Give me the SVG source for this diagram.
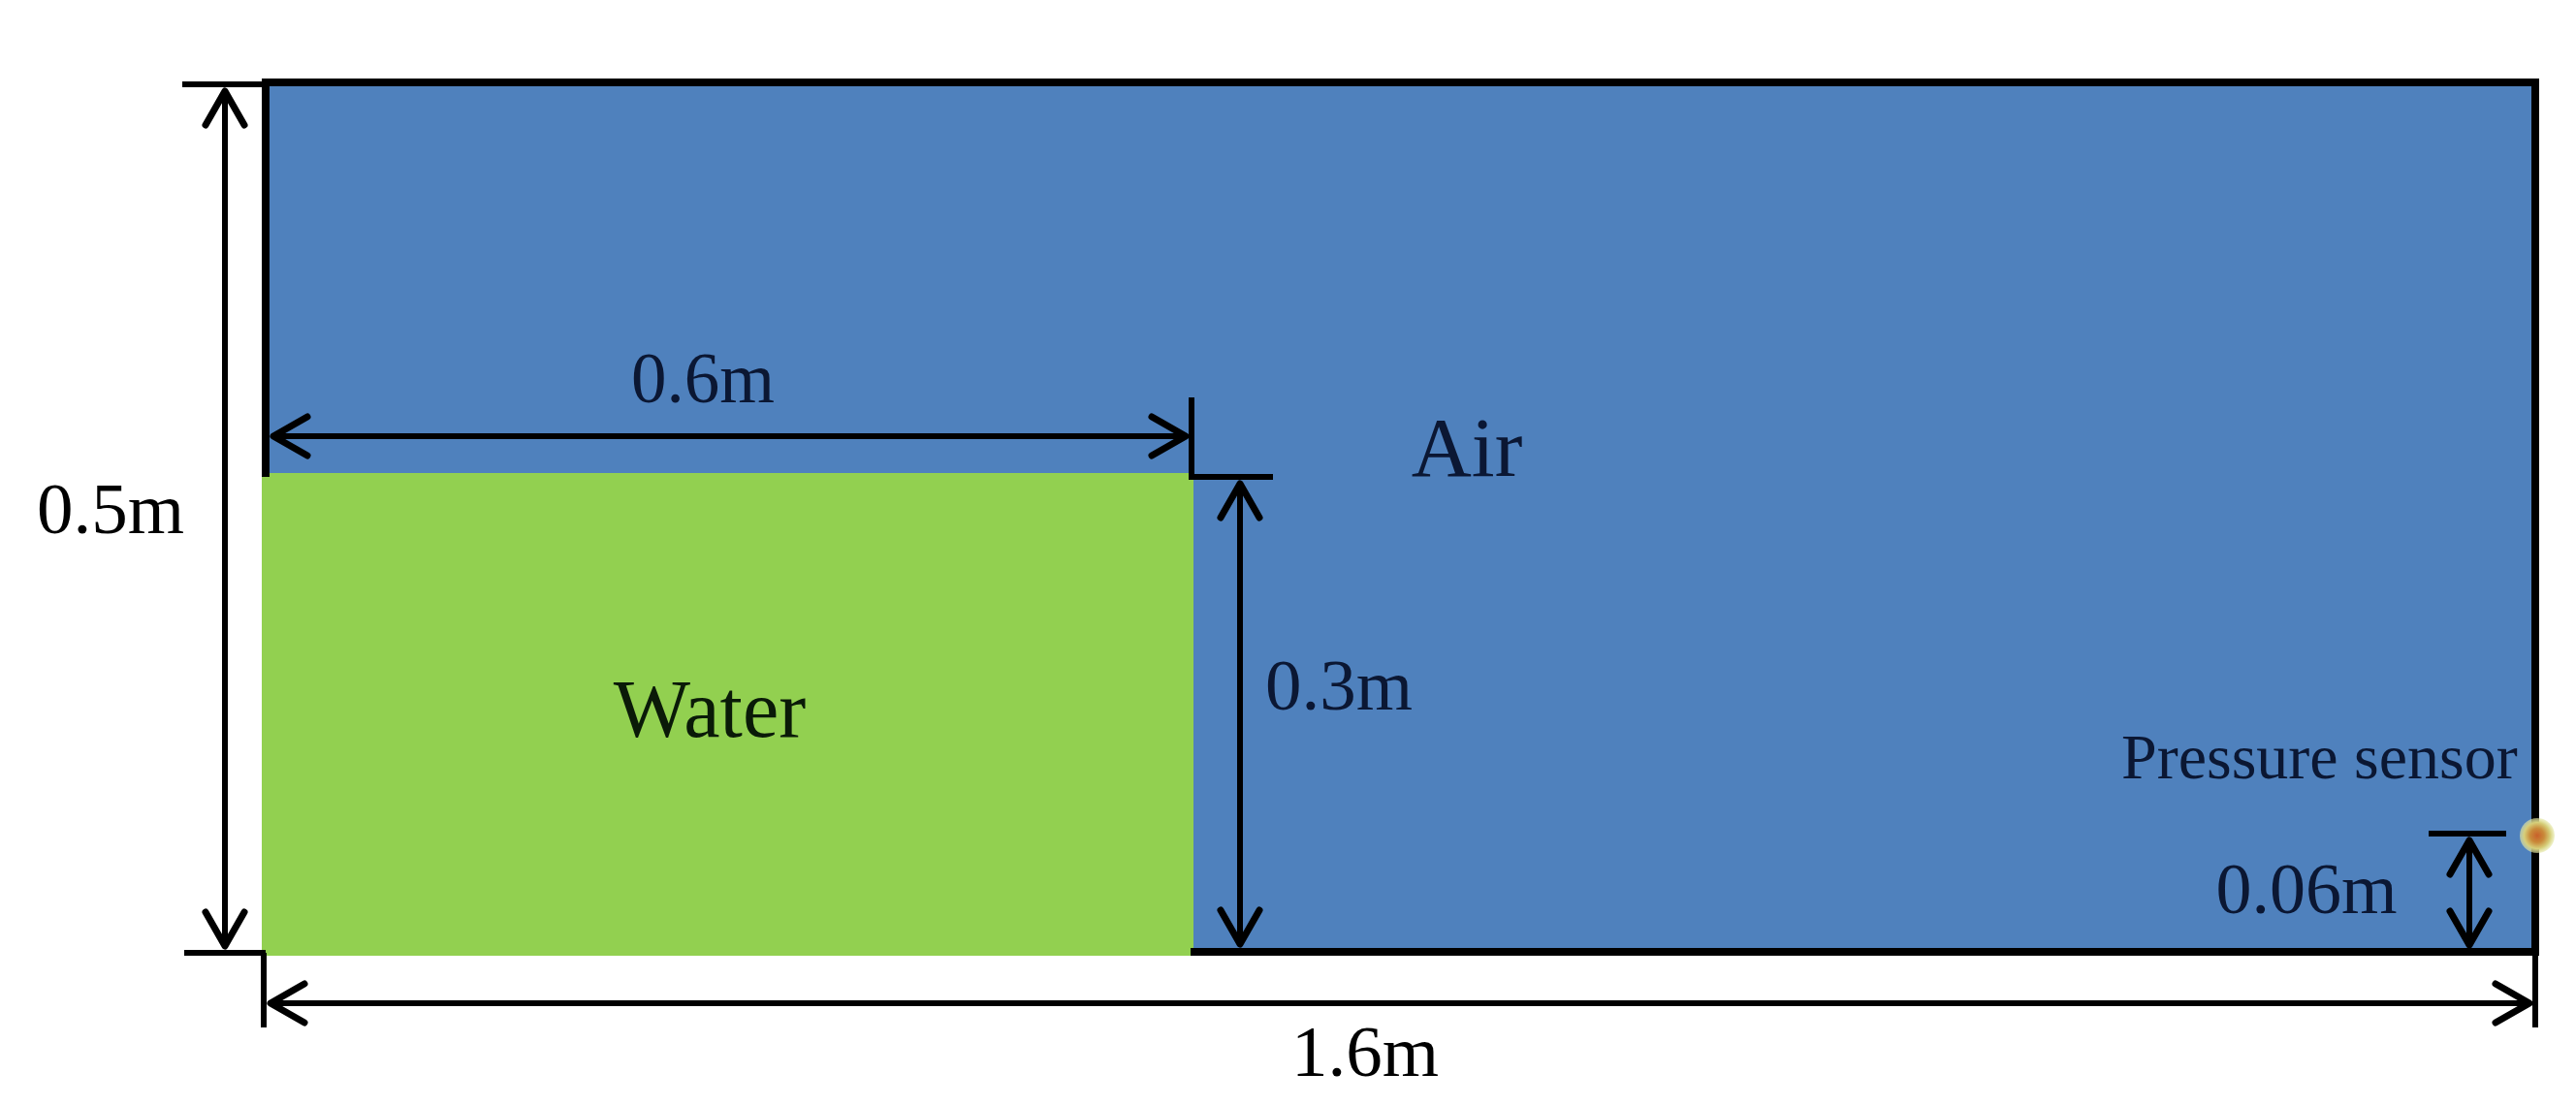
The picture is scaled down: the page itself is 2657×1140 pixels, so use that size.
<svg xmlns="http://www.w3.org/2000/svg" width="2657" height="1140" viewBox="0 0 2657 1140">
  <style>
    .lbl { font-family: "Liberation Serif", "Times New Roman", serif; }
    .dim { stroke: #000; stroke-width: 6; fill: none; stroke-linecap: butt; }
    .dimA { stroke: #000; stroke-width: 6; fill: none; marker-start: url(#arr); marker-end: url(#arr); }
    .border { stroke: #000; stroke-width: 8; fill: none; stroke-linejoin: miter; stroke-linecap: square; }
    .inblue { fill: #0b1733; }
    .outside { fill: #000; }
  </style>
  <defs>
    <marker id="arr" markerUnits="userSpaceOnUse" markerWidth="60" markerHeight="60" viewBox="-50 -30 60 60" refX="0" refY="0" orient="auto-start-reverse">
      <path d="M-37,-20 L-2,0 L-37,20" fill="none" stroke="#000" stroke-width="7" stroke-linecap="round" stroke-linejoin="round"/>
    </marker>
    <radialGradient id="sensorGlow" cx="0.5" cy="0.5" r="0.5">
      <stop offset="0" stop-color="#c8602a"/>
      <stop offset="0.4" stop-color="#c98a3a"/>
      <stop offset="0.75" stop-color="#d6cf7a"/>
      <stop offset="1" stop-color="#e4e8a8" stop-opacity="0.6"/>
    </radialGradient>
  </defs>

  <rect width="2657" height="1140" fill="#ffffff"/>

  <g id="air">
    <rect x="272" y="84" width="2343" height="899" fill="#4f81bd"/>
  </g>
  <g id="water">
    <rect x="270" y="488" width="961" height="498" fill="#92d050"/>
  </g>
  <g id="tank-border">
    <path class="border" d="M274,488 V85 H2615 V982 H1232"/>
  </g>

  <g id="connectors">
    <!-- 0.5m dimension -->
    <line class="dim" x1="188" y1="87" x2="274" y2="87"/>
    <line class="dim" x1="190" y1="983" x2="274" y2="983"/>
    <line class="dimA" x1="232" y1="92" x2="232" y2="978"/>
    <!-- 0.6m dimension -->
    <line class="dimA" x1="280" y1="450" x2="1225" y2="450"/>
    <path class="dim" d="M1229,410 V492 H1313"/>
    <!-- 0.3m dimension -->
    <line class="dimA" x1="1279" y1="497" x2="1279" y2="976"/>
    <!-- 1.6m dimension -->
    <line class="dim" x1="272" y1="983" x2="272" y2="1060"/>
    <line class="dim" x1="2615" y1="982" x2="2615" y2="1060"/>
    <line class="dimA" x1="277" y1="1035" x2="2611" y2="1035"/>
    <!-- 0.06m dimension -->
    <line class="dim" x1="2505" y1="860" x2="2585" y2="860"/>
    <line class="dimA" x1="2547" y1="865" x2="2547" y2="977"/>
  </g>

  <g id="sensor">
    <circle cx="2617" cy="862" r="18" fill="url(#sensorGlow)"/>
  </g>

  <g id="labels">
    <text class="lbl outside" x="114" y="550" font-size="75" text-anchor="middle">0.5m</text>
    <text class="lbl inblue" x="725" y="415" font-size="73" text-anchor="middle">0.6m</text>
    <text class="lbl inblue" x="1513" y="491" font-size="86" text-anchor="middle">Air</text>
    <text class="lbl" fill="#0a1a08" x="732" y="760" font-size="84" text-anchor="middle">Water</text>
    <text class="lbl inblue" x="1381" y="732" font-size="75" text-anchor="middle">0.3m</text>
    <text class="lbl inblue" x="2188" y="803" font-size="66">Pressure sensor</text>
    <text class="lbl inblue" x="2379" y="942" font-size="74" text-anchor="middle">0.06m</text>
    <text class="lbl outside" x="1408" y="1110" font-size="75" text-anchor="middle">1.6m</text>
  </g>
</svg>
